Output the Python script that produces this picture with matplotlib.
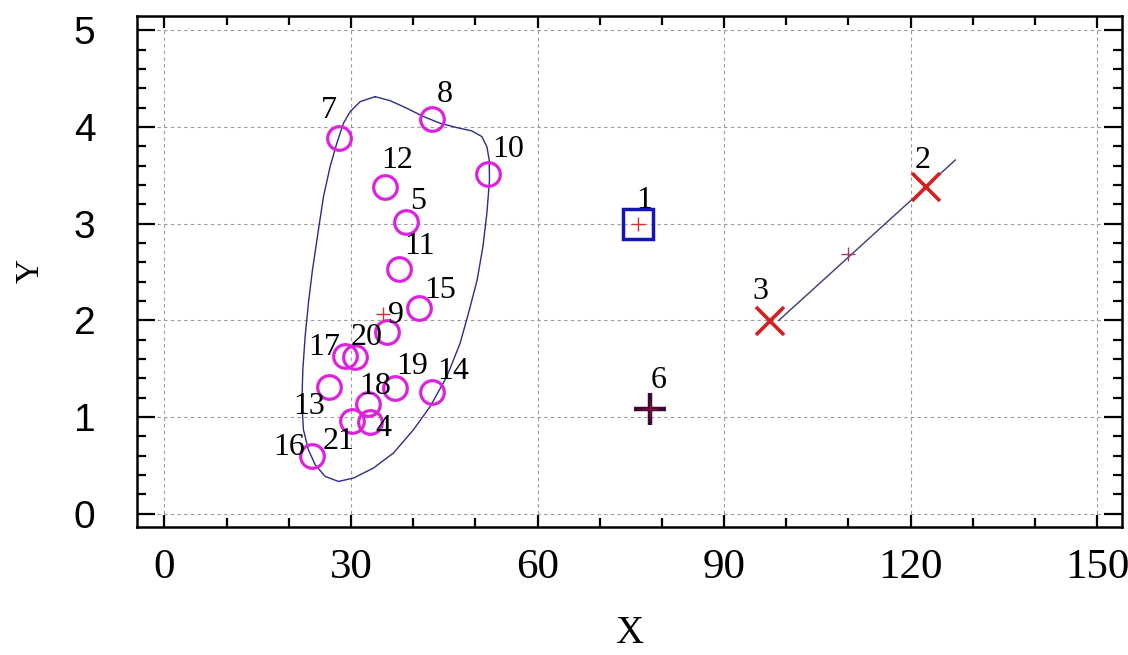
import numpy as np
import matplotlib.pyplot as plt
from matplotlib.ticker import MultipleLocator

# Group A: open magenta circles
circle_ids = [7, 8, 12, 5, 10, 11, 15, 9, 17, 20, 13, 19, 14, 18, 21, 4, 16]
circle_x = [28.0, 43.1, 35.5, 38.9, 52.0, 37.8, 40.9, 35.8, 29.1, 30.7, 26.5, 37.1, 43.0, 32.7, 30.1, 33.0, 23.7]
circle_y = [3.89, 4.08, 3.385, 3.02, 3.52, 2.53, 2.13, 1.885, 1.627, 1.62, 1.316, 1.30, 1.255, 1.14, 0.955, 0.944, 0.593]

# Group B: square, group C: crosses, group D: plus
square_ids = [1]
square_x = [76.1]
square_y = [3.0]

cross_ids = [3, 2]
cross_x = [97.4, 122.4]
cross_y = [1.99, 3.385]

plus_ids = [6]
plus_x = [78.1]
plus_y = [1.083]

# outline around group A
hull_x = [33.89, 36.30, 38.99, 41.66, 44.35, 47.03, 49.44, 51.05, 51.86, 52.23, 52.28, 51.86,
          51.22, 50.30, 48.90, 47.56, 45.42, 42.74, 40.05, 36.83, 33.62, 30.40, 27.99, 25.85,
          24.24, 23.16, 22.36, 22.10, 22.26, 22.63, 23.16, 23.81, 24.77, 25.58, 26.65, 27.73,
          28.79, 29.87, 31.48, 33.89]
hull_y = [4.315, 4.274, 4.195, 4.109, 4.040, 3.995, 3.961, 3.902, 3.798, 3.661, 3.454, 3.110,
          2.764, 2.420, 2.075, 1.765, 1.420, 1.110, 0.869, 0.628, 0.473, 0.369, 0.334, 0.386,
          0.507, 0.662, 0.869, 1.145, 1.489, 1.834, 2.179, 2.523, 2.937, 3.281, 3.592, 3.834,
          4.040, 4.160, 4.264, 4.315]

# axis segment through group C
seg_x = [98.8, 127.2]
seg_y = [2.0, 3.66]

# label offsets in pixels (dx, dy)
label_off = {7: (-10, 27), 8: (12, 25), 12: (12, 26), 5: (12, 20), 10: (20, 24), 11: (20, 23),
             15: (21, 17), 9: (9, 16), 17: (-21, 9), 20: (11, 20), 13: (-20, -20), 19: (17, 22),
             14: (21, 21), 18: (7, 17), 21: (-13, -20), 4: (14, -6), 16: (-23, 9),
             1: (7, 23), 6: (9, 29), 3: (-10, 30), 2: (-3, 26)}

fig = plt.figure(figsize=(11.28, 6.55), dpi=100)
ax = fig.add_axes([0.1215, 0.1959, 0.8732, 0.7797])

ax.grid(True, which='major', color='#9a9a9a', linestyle=(0, (3, 3)), linewidth=0.8)
ax.set_axisbelow(True)

ax.plot(hull_x, hull_y, color='#2c2c8c', linewidth=1.0, zorder=2)
ax.plot(seg_x, seg_y, color='#3a3a7a', linewidth=1.0, zorder=2)

ax.plot(circle_x, circle_y, 'o', ms=17, mfc='none', mec='#dd22dd', mew=2.3, zorder=3)
ax.plot(square_x, square_y, 's', ms=22, mfc='none', mec='#1515b5', mew=2.5, zorder=3)
ax.plot(cross_x, cross_y, 'x', ms=20, mec='#d42020', mew=2.6, zorder=3)
ax.plot(plus_x, plus_y, '+', ms=23, mec='#3a0a35', mew=3.2, zorder=3)

# group centroids
ax.plot(np.mean(circle_x), np.mean(circle_y), '+', ms=10, mec='#d83030', mew=1.0, zorder=4)
ax.plot(np.mean(square_x), np.mean(square_y), '+', ms=10, mec='#d83030', mew=1.0, zorder=4)
ax.plot(np.mean(cross_x), np.mean(cross_y), '+', ms=10, mec='#a03a70', mew=1.0, zorder=4)
ax.plot(np.mean(plus_x), np.mean(plus_y), '+', ms=12, mec='#8a1030', mew=1.0, zorder=4)

all_ids = circle_ids + square_ids + cross_ids + plus_ids
all_x = circle_x + square_x + cross_x + plus_x
all_y = circle_y + square_y + cross_y + plus_y
for i, x, y in zip(all_ids, all_x, all_y):
    dx, dy = label_off[i]
    ax.annotate(str(i), (x, y), xytext=(dx, dy), textcoords='offset pixels',
                ha='center', va='center', fontsize=23, family='Liberation Serif', zorder=5)

ax.set_xlim(-4.4, 154.0)
ax.set_ylim(-0.134, 5.15)
ax.xaxis.set_major_locator(MultipleLocator(30))
ax.xaxis.set_minor_locator(MultipleLocator(10))
ax.yaxis.set_major_locator(MultipleLocator(1))
ax.yaxis.set_minor_locator(MultipleLocator(0.2))

ax.tick_params(axis='both', which='both', direction='in', top=True, right=True, width=1.6, color='black')
ax.tick_params(axis='y', which='major', length=13, pad=30)
ax.tick_params(axis='y', which='minor', length=6.5)
ax.tick_params(axis='x', which='major', length=8.5, pad=16)
ax.tick_params(axis='x', which='minor', length=6.5)

for lab in ax.get_xticklabels():
    lab.set_family('Liberation Serif')
    lab.set_fontsize(31)
for lab in ax.get_yticklabels():
    lab.set_family('Liberation Sans')
    lab.set_fontsize(28)

for sp in ax.spines.values():
    sp.set_linewidth(1.8)

ax.set_xlabel('X', family='Liberation Serif', fontsize=28, labelpad=20)
ax.set_ylabel('Y', family='Liberation Serif', fontsize=24, labelpad=20)

fig.savefig('out.png', dpi=100)
